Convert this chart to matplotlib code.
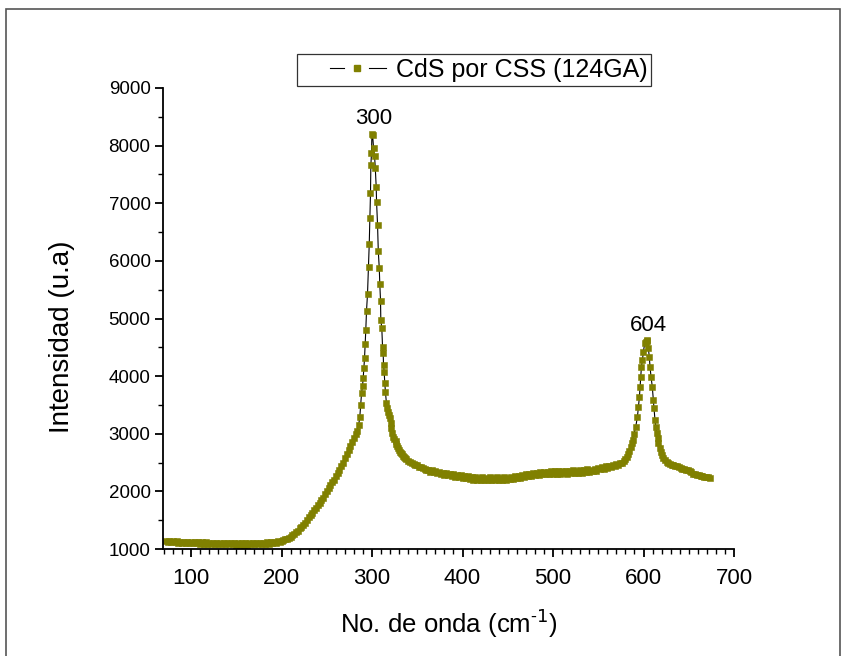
import matplotlib
matplotlib.use("Agg")
import matplotlib.pyplot as plt
from matplotlib.ticker import MultipleLocator
from matplotlib.patches import Rectangle
from matplotlib.lines import Line2D
from matplotlib.legend_handler import HandlerBase

plt.rcParams['font.family'] = ['Liberation Sans', 'DejaVu Sans']

# Raman shift (cm-1) and intensity (u.a)
wavenumber = [
    72, 74, 76, 78, 80, 82, 84, 86, 88, 90, 92, 94, 96, 98, 100, 102, 104, 106, 108, 110,
    112, 114, 116, 118, 120, 122, 124, 126, 128, 130, 132, 134, 136, 138, 140, 142, 144,
    146, 148, 150, 152, 154, 156, 158, 160, 162, 164, 166, 168, 170, 172, 174, 176, 178,
    180, 182, 184, 186, 188, 190, 192, 194, 196, 198,
    200, 202, 204, 206, 208, 210, 212, 214, 216, 218, 220, 222, 224, 226, 228, 230, 232,
    234, 236, 238, 240, 242, 244, 246, 248, 250, 252, 254, 256, 258, 260, 262, 264, 266,
    268, 270, 272, 274, 276, 278, 280, 282, 283.5, 285.2,
    286.5, 287.5, 288.4, 289.5, 290.2, 290.9, 291.7, 292.4, 293.1, 293.9, 295.0,
    296.1, 296.9, 297.6, 298.3, 298.7, 299.4, 299.9, 300.6,
    301.7, 302.8, 303.6, 304.6, 305.0, 306.1, 306.9, 308.0, 308.6, 309.4, 309.7,
    310.8, 311.6, 312.3, 312.7, 313.4, 314.1, 314.8, 315.9, 316.8, 317.8, 318.7,
    319.6, 320.5, 321.4, 322.3, 323.3, 324.5, 326, 327, 328, 329, 330, 331, 332, 333,
    334, 335, 336, 338, 340, 342, 344, 346, 348, 350, 352, 354, 356, 358, 360, 362,
    364, 366, 368, 370, 372, 374, 376, 378, 380, 382, 384, 386, 388, 390, 392, 394,
    396, 398, 400, 402, 404, 406, 408, 410, 412, 414, 416, 418, 420, 422, 424, 426,
    428, 430, 432, 434, 436, 438, 440, 442, 444, 446, 448, 450, 452, 454, 456, 458,
    460, 462, 464, 466, 468, 470, 472, 474, 476, 478, 480, 482, 484, 486, 488, 490,
    492, 494, 496, 498, 500, 502, 504, 506, 508, 510, 512, 514, 516, 518, 520, 522,
    524, 526, 528, 530, 532, 534, 536, 538, 540, 542, 544, 546, 548, 550, 552, 554,
    556, 558, 560, 562, 564, 566, 568, 570, 572, 574, 576, 578, 580, 581.5, 583, 584.5,
    586, 587, 588, 589.5, 591.4, 593.3, 594.4, 595.5, 596.2, 596.9, 597.7, 598.8,
    599.9, 601.3, 602.4, 603.5, 604.4, 605.3, 606.4, 607.2, 608.3, 609.7, 610.8,
    611.6, 612.7, 613.6, 614.6, 615.5, 616.4, 617.7, 619.0, 620.5, 621.9, 623.5,
    625.5, 627.5, 629, 631, 633, 635, 637, 639, 641, 643, 645, 647, 649, 651, 653,
    655, 657, 659, 661, 663, 665, 667, 669, 671, 673,
]
intensity = [
    1145, 1122, 1138, 1117, 1136, 1113, 1132, 1110, 1130, 1107, 1128, 1104, 1124, 1101, 1122, 1099, 1119, 1097, 1117, 1094,
    1115, 1092, 1113, 1090, 1112, 1088, 1110, 1086, 1108, 1085, 1106, 1083, 1105, 1082, 1104, 1080, 1102,
    1079, 1101, 1078, 1100, 1077, 1099, 1077, 1099, 1078, 1100, 1079, 1101, 1081, 1103, 1083, 1106, 1086,
    1109, 1090, 1114, 1095, 1120, 1102, 1128, 1112, 1138, 1126,
    1142, 1150, 1168, 1176, 1198, 1212, 1240, 1258, 1292, 1318, 1356, 1384, 1420, 1452, 1500, 1548, 1590,
    1622, 1672, 1706, 1758, 1796, 1848, 1890, 1950, 2010, 2052, 2110, 2160, 2206, 2268, 2318, 2372, 2432,
    2500, 2580, 2650, 2720, 2790, 2860, 2920, 2990, 3050, 3150,
    3296, 3500, 3702, 3829, 3962, 4136, 4309, 4552, 4800, 5135, 5425,
    5899, 6288, 6740, 7174, 7660, 7868, 8210, 8190,
    7955, 7820, 7606, 7287, 7027, 6622, 6176, 5871, 5593, 5303, 4974,
    4830, 4511, 4396, 4193, 4077, 3875, 3730, 3528, 3450, 3383, 3320,
    3268, 3180, 3094, 3020, 2949, 2910, 2870, 2830, 2790, 2750, 2712, 2690, 2662, 2650,
    2622, 2600, 2585, 2558, 2530, 2515, 2488, 2482, 2458, 2450, 2425, 2418, 2398, 2395, 2372, 2368,
    2344, 2364, 2328, 2350, 2314, 2338, 2298, 2326, 2288, 2314, 2276, 2308, 2268, 2300, 2258, 2292,
    2248, 2284, 2236, 2270, 2224, 2264, 2208, 2248, 2202, 2244, 2196, 2240, 2198, 2246, 2192, 2234,
    2204, 2248, 2196, 2234, 2202, 2244, 2194, 2238, 2206, 2246, 2198, 2240, 2214, 2256, 2218, 2264,
    2230, 2274, 2238, 2284, 2250, 2294, 2260, 2306, 2272, 2314, 2282, 2324, 2290, 2330, 2298, 2338,
    2294, 2344, 2308, 2350, 2304, 2348, 2310, 2354, 2306, 2346, 2312, 2358, 2308, 2350, 2314, 2364,
    2312, 2354, 2320, 2370, 2322, 2364, 2330, 2380, 2338, 2378, 2348, 2394, 2360, 2406, 2380, 2422,
    2392, 2436, 2406, 2448, 2420, 2460, 2434, 2470, 2452, 2486, 2500, 2530, 2565, 2600, 2650, 2700,
    2770, 2834, 2890, 3000, 3122, 3296, 3470, 3643, 3817, 3990, 4164, 4280,
    4424, 4569, 4600, 4627, 4610, 4483, 4337, 4164, 3990, 3817, 3585,
    3441, 3238, 3120, 3007, 2920, 2834, 2760, 2689, 2630, 2574, 2540,
    2510, 2487, 2478, 2462, 2456, 2440, 2432, 2418, 2412, 2392, 2396, 2376, 2372, 2346, 2330,
    2306, 2300, 2288, 2284, 2272, 2270, 2258, 2254, 2244, 2236,
]

peak_positions = [300, 604]
peak_heights = [8210, 4627]
peak_labels = ["300", "604"]

OLIVE = '#808000'


class SplitLineHandler(HandlerBase):
    """Origin-style legend symbol: line segment, marker, line segment."""
    def create_artists(self, legend, orig_handle, xdescent, ydescent,
                       width, height, fontsize, trans):
        y = height / 2 - ydescent
        x0 = -xdescent
        l1 = Line2D([x0 + 0.33 * width, x0 + 0.49 * width], [y, y], color='black', lw=0.8)
        mk = Line2D([x0 + 0.64 * width], [y], ls='none', marker='s', ms=4,
                    mfc=OLIVE, mec=OLIVE)
        l2 = Line2D([x0 + 0.78 * width, x0 + 0.98 * width], [y, y], color='black', lw=0.8)
        for a in (l1, mk, l2):
            a.set_transform(trans)
        return [l1, mk, l2]


fig = plt.figure(figsize=(8.42, 6.56), dpi=100)
ax = fig.add_axes([163/842, 1 - 549/656, (734 - 163)/842, (549 - 88)/656])

line, = ax.plot(wavenumber, intensity, color='black', lw=0.8, marker='s', ms=4.3,
                mfc=OLIVE, mec=OLIVE, mew=0.4, label='CdS por CSS (124GA)')

for xp, yp, lab in zip(peak_positions, peak_heights, peak_labels):
    ax.annotate(lab, (xp, yp), xytext=(1, 3), textcoords='offset points',
                ha='center', va='bottom', fontsize=16)

ax.set_xlim(69, 700)
ax.set_ylim(1000, 9000)
ax.xaxis.set_major_locator(MultipleLocator(100))
ax.xaxis.set_minor_locator(MultipleLocator(10))
ax.yaxis.set_major_locator(MultipleLocator(1000))
ax.yaxis.set_minor_locator(MultipleLocator(500))

for s in ['top', 'right']:
    ax.spines[s].set_visible(False)
for s in ['left', 'bottom']:
    ax.spines[s].set_linewidth(1.3)

ax.tick_params(axis='both', which='major', direction='out', length=6, width=1.3)
ax.tick_params(axis='both', which='minor', direction='out', length=3.5, width=1.0)
ax.tick_params(axis='x', labelsize=16, pad=8)
ax.tick_params(axis='y', labelsize=13.5, pad=3)

ax.set_xlabel('No. de onda (cm$^{\\mathregular{\u2010}1}$)', fontsize=18.5, labelpad=12)
ax.set_ylabel('Intensidad (u.a)', fontsize=20, va='center')
ax.yaxis.set_label_coords(-0.177, 0.46)

leg = fig.legend(handles=[line], labels=['CdS por CSS (124GA)'],
                 handler_map={line: SplitLineHandler()},
                 loc='center', bbox_to_anchor=(474/842, 1 - 70/656), fontsize=18,
                 frameon=True, fancybox=False, edgecolor='black', handlelength=3.5,
                 borderpad=0.15, handletextpad=0.3, borderaxespad=0)
leg.get_frame().set_linewidth(0.9)

fig.patches.append(Rectangle((6/842, -0.05), (840 - 6)/842, 1 - 9/656 + 0.05,
                             transform=fig.transFigure, fill=False,
                             edgecolor='#555555', lw=1.2))

fig.savefig('out.png', dpi=100)
